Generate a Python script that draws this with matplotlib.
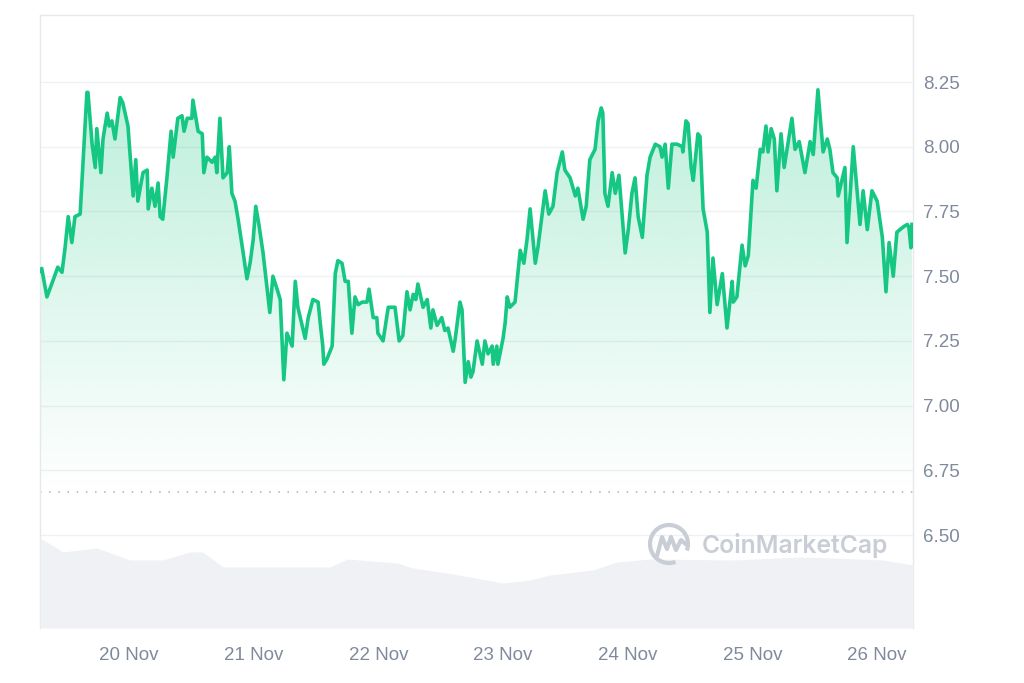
import numpy as np
import pandas as pd
import matplotlib
matplotlib.use("Agg")
import matplotlib.pyplot as plt
import matplotlib.dates as mdates
from matplotlib.colors import to_rgb
from matplotlib.patches import Arc

# price, hours counted from 19 Nov 00:00
hours = [6.9, 7.2, 8.2, 9.4, 10.3, 11.1, 11.7, 12.3, 13.0, 13.6, 14.6, 15.1, 15.9, 16.1, 16.9,
         17.5, 17.8, 18.6, 19.0, 19.8, 20.2, 20.7, 21.3, 22.3, 22.8, 23.8, 24.8, 25.3, 25.7,
         26.7, 27.5, 27.7, 28.4, 29.0, 29.6, 30.0, 30.5, 31.3, 32.1, 32.5, 33.4, 34.2, 34.6,
         35.2, 36.1, 36.3, 37.3, 38.1, 38.4, 39.0, 40.0, 40.6, 40.9, 41.5, 42.1, 42.9, 43.3,
         43.8, 44.4, 45.0, 45.9, 46.7, 47.3, 47.9, 48.4, 49.0, 49.8, 50.6, 51.1, 51.7, 52.5,
         53.1, 53.8, 54.4, 55.4, 56.0, 56.5, 57.9, 58.5, 59.4, 60.4, 60.8, 61.3, 61.5, 62.1,
         63.1, 63.7, 64.2, 65.0, 65.6, 66.2, 66.9, 67.5, 68.1, 68.9, 69.8, 70.2, 71.0, 71.7,
         71.9, 72.9, 73.9, 75.2, 76.0, 76.7, 77.5, 78.1, 78.7, 79.2, 79.6, 80.6, 81.4, 82.1,
         82.5, 83.3, 84.2, 84.8, 85.4, 86.4, 86.8, 87.7, 88.1, 88.7, 89.3, 89.8, 90.2, 91.0,
         92.0, 92.5, 93.1, 93.9, 94.1, 94.8, 95.0, 96.0, 96.4, 96.8, 97.3, 98.3, 99.3, 100.0,
         100.6, 101.2, 102.2, 102.7, 104.1, 104.8, 105.6, 106.4, 107.4, 107.9, 108.9, 109.9,
         110.4, 111.4, 112.0, 112.7, 113.7, 114.3, 114.9, 115.2, 115.6, 116.2, 117.0, 117.6,
         118.3, 119.5, 120.1, 120.8, 121.4, 122.0, 122.8, 123.7, 124.3, 125.3, 126.2, 126.6,
         127.2, 127.8, 128.5, 129.5, 130.5, 130.6, 131.2, 131.6, 132.2, 132.6, 133.5, 133.9,
         134.5, 135.3, 135.8, 136.4, 137.2, 138.2, 139.1, 140.1, 140.3, 141.0, 142.0, 142.6,
         143.2, 144.1, 144.7, 145.5, 146.0, 146.6, 147.0, 147.6, 148.2, 148.7, 149.5, 150.1,
         151.6, 152.2, 153.0, 154.1, 155.1, 155.7, 156.6, 157.6, 158.4, 158.9, 159.5, 160.3,
         160.5, 161.8, 162.2, 163.4, 164.1, 164.7, 165.3, 166.1, 167.0, 168.0, 169.0, 169.7,
         170.3, 171.1, 171.8, 173.0, 173.8, 174.1, 174.5, 174.7]
price = [7.52, 7.53, 7.42, 7.485, 7.535, 7.515, 7.61, 7.73, 7.63, 7.73, 7.74, 7.92, 8.21, 8.21, 8.01,
         7.92, 8.07, 7.90, 8.03, 8.13, 8.08, 8.10, 8.03, 8.19, 8.17, 8.08, 7.81, 7.95, 7.79,
         7.90, 7.91, 7.76, 7.84, 7.77, 7.86, 7.73, 7.72, 7.88, 8.06, 7.96, 8.11, 8.12, 8.06,
         8.11, 8.11, 8.18, 8.06, 8.05, 7.90, 7.96, 7.94, 7.96, 7.90, 8.11, 7.88, 7.90, 8.00,
         7.82, 7.79, 7.72, 7.60, 7.49, 7.55, 7.64, 7.77, 7.70, 7.59, 7.45, 7.36, 7.50, 7.45,
         7.41, 7.10, 7.28, 7.23, 7.48, 7.38, 7.26, 7.34, 7.41, 7.40, 7.32, 7.23, 7.16, 7.18,
         7.23, 7.51, 7.56, 7.55, 7.48, 7.48, 7.28, 7.42, 7.39, 7.40, 7.40, 7.45, 7.34, 7.34,
         7.28, 7.25, 7.38, 7.38, 7.25, 7.27, 7.44, 7.37, 7.43, 7.41, 7.47, 7.38, 7.41, 7.30,
         7.37, 7.31, 7.34, 7.29, 7.30, 7.21, 7.26, 7.40, 7.37, 7.09, 7.17, 7.11, 7.13, 7.25,
         7.16, 7.25, 7.20, 7.23, 7.16, 7.23, 7.16, 7.26, 7.32, 7.42, 7.38, 7.40, 7.60, 7.55,
         7.64, 7.76, 7.55, 7.61, 7.83, 7.74, 7.77, 7.90, 7.98, 7.91, 7.88, 7.81,
         7.84, 7.72, 7.77, 7.95, 7.99, 8.10, 8.15, 8.13, 7.82, 7.77, 7.90, 7.82,
         7.89, 7.59, 7.68, 7.82, 7.88, 7.73, 7.65, 7.89, 7.96, 8.01, 8.00, 7.96,
         8.01, 7.84, 8.01, 8.01, 8.00, 7.98, 8.10, 8.09, 7.92, 7.87, 8.05, 8.04,
         7.76, 7.67, 7.36, 7.57, 7.39, 7.51, 7.30, 7.48, 7.40, 7.42, 7.62, 7.54,
         7.58, 7.87, 7.84, 7.99, 7.98, 8.08, 7.98, 8.07, 8.03, 7.83, 8.05, 7.92,
         8.11, 7.99, 8.02, 7.90, 8.02, 7.97, 8.22, 7.98, 8.03, 7.99, 7.90, 7.88,
         7.81, 7.92, 7.63, 8.00, 7.84, 7.70, 7.83, 7.68, 7.83, 7.79, 7.65, 7.44,
         7.63, 7.50, 7.67, 7.69, 7.70, 7.69, 7.61, 7.70]

# volume (arbitrary units, shown as the grey band)
vol_hours = [6.9, 11.3, 17.8, 24.2, 30.5, 35.7, 38.2, 42.1, 62.7, 66.0, 75.6, 78.7, 85.2,
             89.6, 96.0, 101.2, 105.0, 113.3, 117.9, 124.3, 140.3, 153.2, 159.5, 169.1, 174.9]
volume = [45, 38, 40, 34, 34, 38, 38, 30.5, 30.5, 34.5, 32.5, 30, 27.5,
          25.5, 22.5, 24, 26.5, 29, 33, 34.5, 34, 35.5, 35, 34, 31.5]

y_ticks = [6.50, 6.75, 7.00, 7.25, 7.50, 7.75, 8.00, 8.25]
ref_price = 6.665

t0 = pd.Timestamp("2023-11-19")
t = t0 + pd.to_timedelta(hours, unit="h")
tv = t0 + pd.to_timedelta(vol_hours, unit="h")
x0 = t0 + pd.Timedelta(hours=6.87)
x1 = t0 + pd.Timedelta(hours=174.9)

green = "#16c784"
txt = "#808a9d"
edge = "#e6e8ec"
plt.rcParams["font.family"] = ["Liberation Sans", "DejaVu Sans"]

fig = plt.figure(figsize=(10.24, 6.83), dpi=100)
ax = fig.add_axes([40 / 1024, 55 / 683, 873 / 1024, 613 / 683])

# volume band underneath
axv = ax.twinx()
axv.fill_between(tv, volume, 0, color="#eff1f4", lw=0)
axv.set_ylim(0, 306.5)
axv.set_axis_off()

# gradient under the price line
grad = np.zeros((256, 1, 4))
grad[..., :3] = to_rgb(green)
grad[:, 0, 3] = np.linspace(0.0, 0.3, 256)
xn0, xn1 = mdates.date2num(x0), mdates.date2num(x1)
im = ax.imshow(grad, extent=[xn0, xn1, ref_price, 8.3], origin="lower",
               aspect="auto", zorder=1, interpolation="bilinear")
poly = ax.fill_between(t, price, ref_price, color="none", lw=0)
im.set_clip_path(poly.get_paths()[0], transform=ax.transData)

ax.plot(t, price, color=green, lw=2.6, zorder=3, solid_joinstyle="round")
ax.axhline(ref_price, color="#a9afbb", lw=1.1, ls=(0, (1, 5)), zorder=2)

ax.set_xlim(x0, x1)
ax.set_ylim(6.141, 8.509)
ax.set_yticks(y_ticks)
ax.set_yticklabels([f"{v:.2f}" for v in y_ticks])
ax.yaxis.tick_right()
ax.grid(axis="y", color="#eff1f4", lw=1)
ax.set_axisbelow(True)

ax.xaxis.set_major_locator(mdates.DayLocator())
ax.xaxis.set_major_formatter(mdates.DateFormatter("%d %b"))
ax.tick_params(axis="y", length=0, pad=7, labelcolor=txt, labelsize=13.5)
ax.tick_params(axis="x", length=0, pad=14, labelcolor=txt, labelsize=13.5)

for s in ["left", "top", "right"]:
    ax.spines[s].set_color(edge)
    ax.spines[s].set_linewidth(1)
ax.spines["bottom"].set_visible(False)

# watermark
ov = fig.add_axes([0, 0, 1, 1], zorder=5)
ov.set_xlim(0, 1024)
ov.set_ylim(683, 0)
ov.set_axis_off()
wm = "#c9cdd6"
ov.add_patch(Arc((669, 544), 38, 38, theta1=70, theta2=20, color=wm, lw=3))
ov.plot([657, 662, 667, 671, 676, 681, 688], [556, 537, 549, 537, 550, 540, 546],
        color=wm, lw=3, solid_capstyle="round", solid_joinstyle="round")
ov.text(702, 545, "CoinMarketCap", color=wm, fontsize=17.8, fontweight="semibold",
        family=["Inter", "DejaVu Sans"], va="center", ha="left")

fig.savefig("out.png", dpi=100, facecolor="white")
